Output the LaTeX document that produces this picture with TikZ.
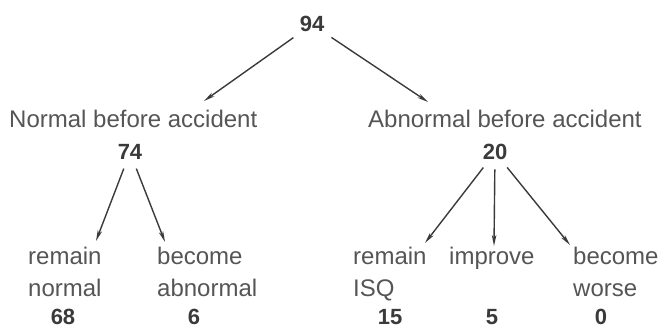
\documentclass[tikz,border=0pt]{standalone}
\usepackage{fontspec}
\setmainfont{Liberation Sans}
\usetikzlibrary{arrows.meta}
\definecolor{inkgray}{HTML}{3A3A3A}
\definecolor{labelgray}{HTML}{555555}
\tikzset{
	lbl/.style={font=\fontsize{24}{30}\selectfont,text=labelgray,inner sep=0pt,anchor=base west},
	num/.style={font=\fontsize{22}{26}\selectfont\bfseries,text=inkgray,inner sep=0pt,anchor=base},
	arr/.style={-{Stealth[length=11pt,width=4.5pt,inset=3pt]},line width=1.4pt,inkgray,shorten <=9pt},
}
\begin{document}
\begin{tikzpicture}[x=1pt,y=-1pt]
	\useasboundingbox (0,0) rectangle (660,328);
	% total
	\node[num] (n94) at (312,32) {94};
	% state before accident
	\node[lbl] (normal) at (9,128) {Normal before accident};
	\node[lbl] (abnormal) at (368,128) {Abnormal before accident};
	\node[num] (n74) at (130,160) {74};
	\node[num] (n20) at (495,160) {20};
	% outcome labels
	\node[lbl] (remnorm) at (28,265) {remain};
	\node[lbl] (remnormb) at (28,296) {normal};
	\node[lbl] (becabn) at (157,265) {become};
	\node[lbl] (becabnb) at (157,296) {abnormal};
	\node[lbl] (remisq) at (353,265) {remain};
	\node[lbl] (remisqb) at (353,296) {ISQ};
	\node[lbl] (improve) at (449,265) {improve};
	\node[lbl] (becworse) at (573,265) {become};
	\node[lbl] (becworseb) at (573,296) {worse};
	% outcome counts
	\node[num] (n68) at (63,324) {68};
	\node[num] (n6) at (194,324) {6};
	\node[num] (n15) at (390,324) {15};
	\node[num] (n5) at (492,324) {5};
	\node[num] (n0) at (601,324) {0};
	% arrow tips
	\coordinate (tnormal) at (204,101);
	\coordinate (tabnormal) at (428,102);
	\coordinate (tremnorm) at (96,241);
	\coordinate (tbecabn) at (165,242);
	\coordinate (tremisq) at (425,243);
	\coordinate (timprove) at (494,246);
	\coordinate (tbecworse) at (570,245);
	% draw arrows
	\draw[arr] (n94) -- (tnormal);
	\draw[arr] (n94) -- (tabnormal);
	\draw[arr] (n74) -- (tremnorm);
	\draw[arr] (n74) -- (tbecabn);
	\draw[arr] (n20) -- (tremisq);
	\draw[arr] (n20) -- (timprove);
	\draw[arr] (n20) -- (tbecworse);
\end{tikzpicture}
\end{document}
